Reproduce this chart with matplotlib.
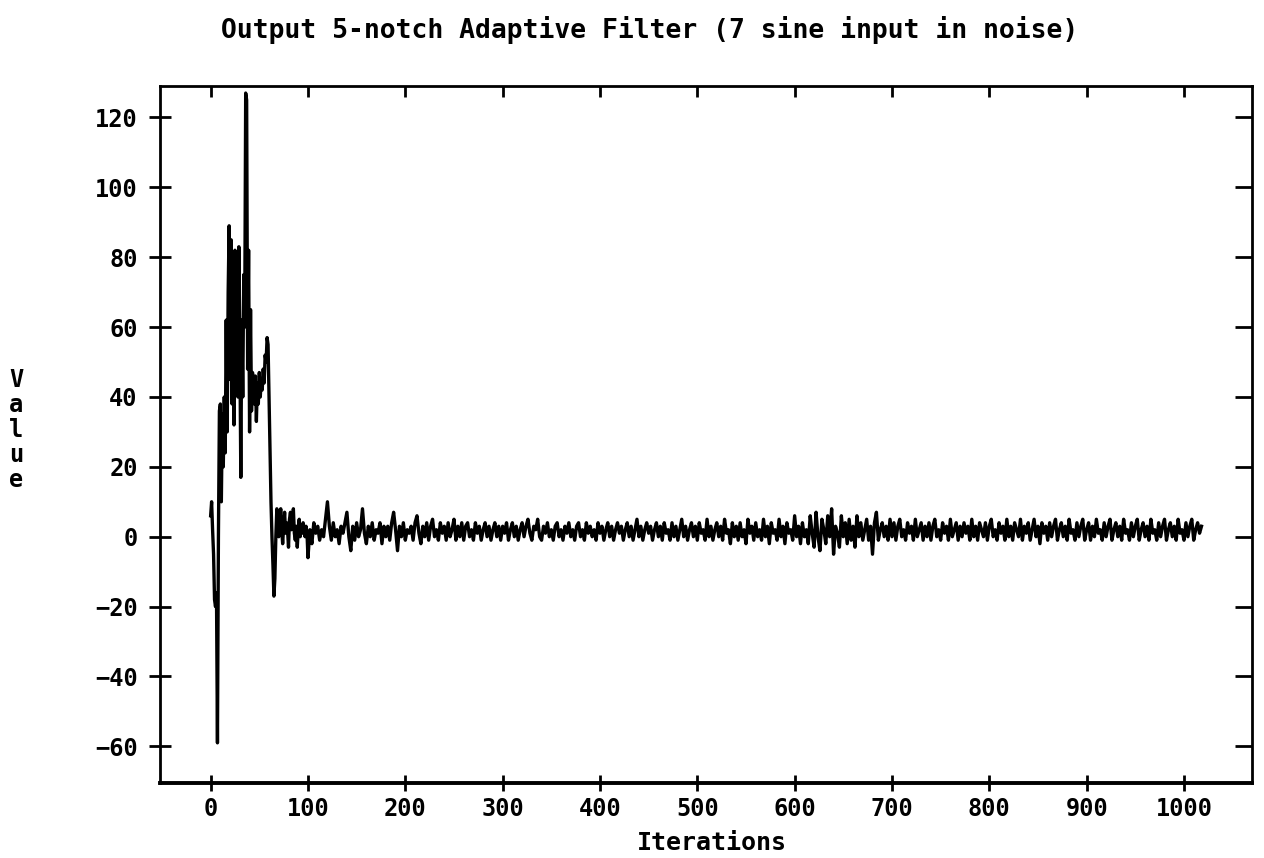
import numpy as np
import matplotlib.pyplot as plt

# -----------------------------
# Data
# -----------------------------
# start-up transient, one value per iteration (0..99)
transient_iter = list(range(100))
transient_vals = [
    6, 10, 2, -5, -18, -20, -16, -59, 0, 36,
    38, 10, 35, 20, 40, 24, 62, 30, 70, 89,
    45, 85, 38, 78, 32, 82, 50, 70, 40, 83,
    55, 17, 62, 40, 75, 60, 127, 125, 48, 82,
    30, 65, 36, 47, 44, 38, 46, 33, 44, 38,
    47, 40, 45, 42, 48, 44, 52, 50, 57, 55,
    40, 25, 10, 0, -8, -17, -12, 0, 8, 6,
    0, 4, 8, 2, -2, 3, 7, 1, 4, 2,
    -3, 5, 7, 2, 4, 8, 1, -1, 3, -3,
    2, 5, 0, 3, 1, 4, 2, 0, 3, 1,
]

# settled output, read every 2 iterations (100..1018)
steady_iter = list(range(100, 1020, 2))
steady_vals = [
    -6, 2, -2, 4, 1, 3, -1, 2, 0, 5, 10, 3, -1, 4, 0, 2, -2, 3, 1, 4,
    7, 0, -4, 3, -1, 4, 0, 2, 8, 1, -2, 3, 0, 4, -1, 2, 1, 4, -2, 3,
    0, 3, -1, 4, 7, 2, -4, 3, 0, 4, -1, 2, 1, 3, -1, 4, 6, 1, -2, 3,
    0, 4, -1, 3, 5, 0, 2, -1, 4, 1, 3, -1, 4, 0, 2, 5, -1, 3, 0, 4,
    -1, 3, 4, 0, 2, -1, 4, 1, 3, -1, 2, 4, 0, 3, -1, 2, 4, 0, 3, -1,
    3, 1, 4, -1, 2, 4, 0, 3, -1, 2, 4, 0, 3, 5, 1, -1, 3, 2, 5, 0,
    -1, 3, 1, 4, 0, 2, -1, 3, 4, 0, 2, -1, 3, 1, 4, 0, 2, -1, 3, 4,
    0, 2, -1, 4, 1, 3, 0, 2, -1, 4, 1, 3, -1, 2, 4, 0, 3, -1, 2, 4,
    1, 3, -1, 2, 4, 0, 3, -1, 2, 5, 0, 3, -1, 2, 4, 1, 3, -1, 2, 4,
    0, 3, -1, 4, 1, 2, -1, 4, 0, 3, -1, 2, 5, 0, 3, -1, 2, 4, 0, 3,
    -1, 4, 1, 2, -1, 5, 0, 3, -1, 2, 4, 0, 3, -1, 5, 1, 2, -2, 4, 0,
    3, -1, 4, 0, 2, -2, 5, 1, 3, -1, 4, 0, 2, -1, 5, 0, 3, -2, 4, 1,
    2, -1, 5, 0, 3, -2, 4, 1, 2, -1, 6, 0, 3, -2, 4, 0, 2, -2, 6, 1,
    -3, 7, 0, -4, 5, 2, -2, 6, 0, 8, -5, 3, 1, -3, 6, 0, 4, -2, 5, -1,
    3, -3, 6, 0, 4, -1, 2, 5, -1, 3, -5, 4, 7, -1, 2, 4, 0, 3, -1, 5,
    0, 4, -1, 3, 5, 0, 2, -1, 4, 1, 3, -1, 5, 0, 2, 4, -1, 3, 0, 4,
    -1, 3, 5, 0, 2, -1, 4, 1, 3, -1, 5, 0, 2, 4, -1, 3, 0, 4, 1, 3,
    -1, 5, 0, 3, -1, 4, 2, 0, 4, -1, 3, 5, 0, 2, -1, 4, 1, 3, -1, 5,
    0, 3, -1, 4, 2, 0, 5, -1, 3, 1, 4, -1, 2, 5, 0, 3, -2, 4, 1, 3,
    -1, 4, 0, 3, 5, -1, 2, 4, 0, 3, -1, 5, 1, 2, -1, 4, 0, 3, 5, -1,
    2, 4, -1, 3, 0, 5, 1, 2, -1, 4, 0, 3, 5, -1, 2, 4, 0, 3, -1, 5,
    1, 2, -1, 4, 0, 3, 5, -1, 2, 4, 0, 3, -1, 5, 1, 2, -1, 4, 0, 3,
    5, -1, 2, 4, 0, 3, -1, 5, 1, 2, -1, 4, 0, 3, 5, -1, 2, 4, 1, 3,
]

x_ticks = list(range(0, 1001, 100))
y_ticks = list(range(-60, 121, 20))

iters = np.array(transient_iter + steady_iter)
vals = np.array(transient_vals + steady_vals)

# -----------------------------
# Plot
# -----------------------------
plt.rcParams['font.family'] = ['DejaVu Sans Mono']
plt.rcParams['font.weight'] = 'bold'

fig = plt.figure(figsize=(12.64, 8.58), dpi=100)
ax = fig.add_axes([0.1266, 0.0874, 0.864, 0.8123])

ax.plot(iters, vals, color="black", lw=2.4)

ax.set_xlim(-52, 1070)
ax.set_ylim(-70.5, 129)

ax.set_xticks(x_ticks)
ax.set_yticks(y_ticks)
ax.tick_params(axis="both", labelsize=17, colors="black", width=2)
ax.tick_params(axis="x", direction="inout", length=12, top=True, pad=4)
ax.tick_params(axis="y", direction="inout", length=16, right=True, pad=8)
# top/right ticks only point inward
for t in ax.xaxis.get_major_ticks():
    t.tick2line.set_marker(3)
    t.tick2line.set_markersize(8)
for t in ax.yaxis.get_major_ticks():
    t.tick2line.set_marker(0)
    t.tick2line.set_markersize(12)

for side in ["left", "top", "right"]:
    ax.spines[side].set_linewidth(2.0)
ax.spines["bottom"].set_linewidth(2.8)

fig.text(650 / 1264, 1 - 30 / 858,
         "Output 5-notch Adaptive Filter (7 sine input in noise)",
         ha="center", va="center", fontsize=19, fontweight="bold")
fig.text(712 / 1264, 1 - 843 / 858, "Iterations",
         ha="center", va="center", fontsize=18, fontweight="bold")
fig.text(16 / 1264, 1 - 430 / 858, "V\na\nl\nu\ne",
         ha="center", va="center", fontsize=17, fontweight="bold",
         linespacing=1.05)

fig.savefig("out.png", dpi=100)
